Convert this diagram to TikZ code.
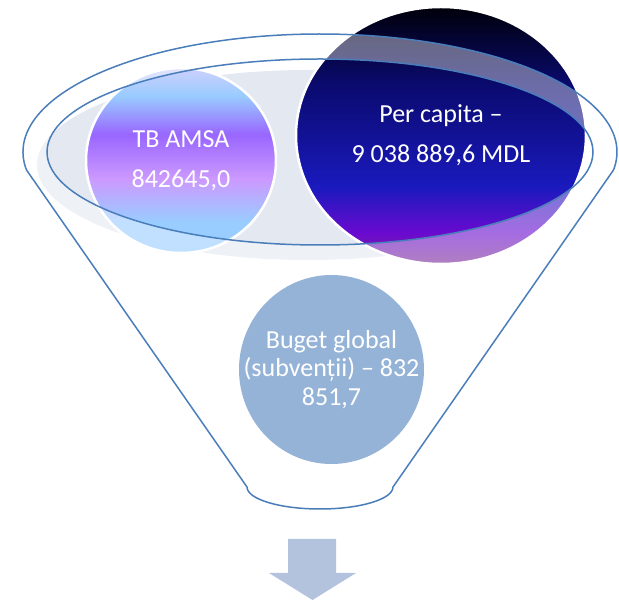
\documentclass[tikz,border=0pt]{standalone}
\usepackage{fontspec}
\setmainfont{Carlito}
\usetikzlibrary{shapes.geometric}

\definecolor{funblue}{RGB}{74,126,187}
\definecolor{bowlgray}{RGB}{228,232,240}
\definecolor{budgetblue}{RGB}{79,129,189}
\definecolor{arrowblue}{RGB}{179,195,222}
\definecolor{tbpale}{RGB}{206,208,252}
\definecolor{tbblue}{RGB}{153,204,255}
\definecolor{tbpurple}{RGB}{153,102,255}
\definecolor{tblav}{RGB}{204,153,255}
\definecolor{pctop}{RGB}{0,0,10}
\definecolor{pcnavy}{RGB}{10,10,110}
\definecolor{pcblue}{RGB}{26,26,190}
\definecolor{pcviolet}{RGB}{106,10,207}
\definecolor{pcplum}{RGB}{123,43,150}

\pgfdeclareverticalshading{tbshade}{100bp}{color(0bp)=(tbblue); color(25bp)=(tbblue); color(33.5bp)=(tbblue); color(45bp)=(tblav); color(57bp)=(tbpurple); color(67.5bp)=(tbblue); color(75bp)=(tbpale); color(100bp)=(tbpale)}
\pgfdeclareverticalshading{pcshade}{100bp}{color(0bp)=(pcplum); color(25bp)=(pcplum); color(31bp)=(pcviolet); color(40bp)=(pcblue); color(60bp)=(pcnavy); color(75bp)=(pctop); color(100bp)=(pctop)}

\begin{document}
\begin{tikzpicture}[x=1pt,y=1pt,
  bubble/.style={ellipse,inner sep=0pt},
  ringed/.style={draw=white,line width=2.5pt},
  txt/.style={align=center,text=white,inner sep=0pt,font=\fontsize{26}{40}\selectfont},
  funnel/.style={fill=white,fill opacity=0.4,draw=funblue,line width=1.5pt,even odd rule}]
\useasboundingbox (0,0) rectangle (619,600);
\node[bubble,fill=bowlgray,minimum width=542pt,minimum height=190pt] (bowl) at (308,435) {};
\node[bubble,ringed,shading=tbshade,minimum width=190pt,minimum height=185pt] (tb) at (181,439.5) {};
\node[bubble,ringed,shading=pcshade,minimum width=290pt,minimum height=257pt] (pc) at (441,464.5) {};
\node[bubble,fill=budgetblue,minimum width=185pt,minimum height=189pt] (budget) at (331.5,230.5) {};
\node[txt] (tbtext) at (tb) {TB AMSA\\842645,0};
\node[txt] (pctext) at (pc) {Per capita --\\9 038 889,6 MDL};
\node[txt,font=\fontsize{26}{28.5}\selectfont] (budgettext) at (budget) {Buget global\\(subvenții) -- 832\\851,7};
\coordinate (mouth) at (320,448);
\coordinate (neck) at (320,113);
\path[funnel] (mouth) ++(188.77:297pt and 118pt)
  arc[start angle=188.77,end angle=-8.77,x radius=297pt,y radius=118pt]
  -- ([xshift=73pt]neck)
  arc[start angle=0,end angle=-180,x radius=73pt,y radius=22pt] -- cycle
  (mouth) ellipse[x radius=273pt,y radius=93pt];
\coordinate (tip) at (312.5,0);
\fill[arrowblue] (tip) -- ++(43.5,27) -- ++(-20,0) -- ++(0,34) -- ++(-48,0) -- ++(0,-34) -- ++(-19,0) -- cycle;
\end{tikzpicture}
\end{document}
